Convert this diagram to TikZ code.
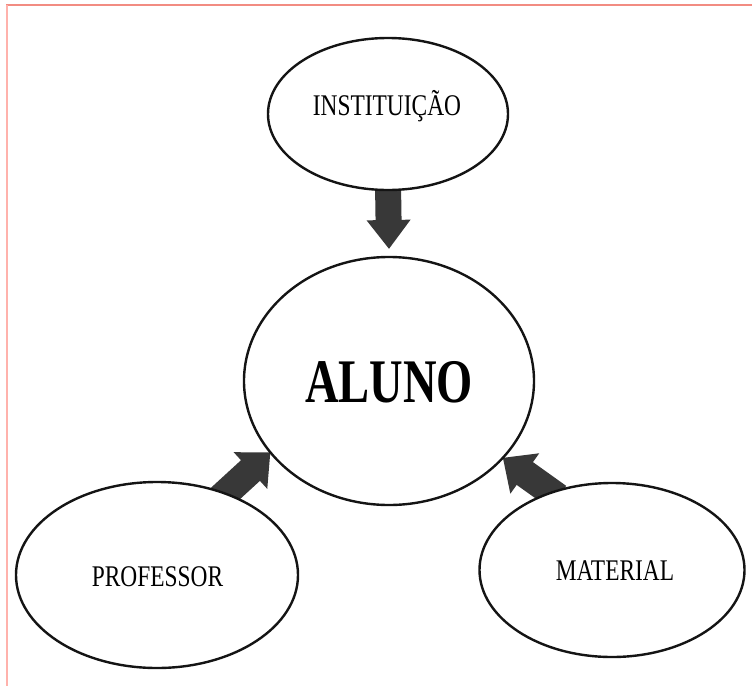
\documentclass[tikz,border=0pt]{standalone}
\usepackage{fontspec}
\usepackage{graphicx}
\setmainfont{Liberation Serif}
\usetikzlibrary{shapes.geometric,arrows.meta,backgrounds}
\definecolor{arrowgray}{RGB}{56,56,56}
\definecolor{edgeblack}{RGB}{20,20,20}
\definecolor{framered}{RGB}{242,140,130}
\definecolor{framepink}{RGB}{255,178,172}
\tikzset{
  oval/.style={ellipse, draw=edgeblack, line width=2.4pt, fill=white, inner sep=0pt, outer sep=0pt},
  lbl/.style={anchor=base, inner sep=0pt, font=\fontsize{30}{36}\selectfont},
  biglbl/.style={anchor=base, inner sep=0pt, font=\fontsize{62}{70}\selectfont\bfseries},
  bigarrow/.style={draw=arrowgray, line width=26pt, -{Triangle[width=42pt,length=29pt]}},
  sidearrow/.style={draw=arrowgray, line width=28pt, -{Triangle[width=48pt,length=27pt]}},
}
\begin{document}
\begin{tikzpicture}[x=1pt,y=-1pt]
\useasboundingbox (0,0) rectangle (752,686);
% ovals
\node[oval, minimum width=240pt, minimum height=152pt] (inst) at (388,114) {};
\node[oval, minimum width=290pt, minimum height=248pt] (aluno) at (389,381) {};
\node[oval, minimum width=282pt, minimum height=186pt] (prof) at (157,575) {};
\node[oval, minimum width=265pt, minimum height=174pt] (mat) at (612,570) {};
% labels
\node[lbl] (tinst) at (387,115) {\scalebox{0.78}[1]{INSTITUIÇÃO}};
\node[biglbl] (taluno) at (389,402) {\scalebox{0.75}[1]{ALUNO}};
\node[lbl] (tprof) at (157.5,586) {\scalebox{0.78}[1]{PROFESSOR}};
\node[lbl] (tmat) at (615,580) {\scalebox{0.78}[1]{MATERIAL}};
% background, frame and arrows
\begin{scope}[on background layer]
\fill[white] (0,0) rectangle (752,686);
\draw[framered, line width=1.6pt] (6,5) -- (752,5);
\draw[framepink, line width=1.6pt] (7,5) -- (7,686);
\draw[bigarrow] ([yshift=6pt]inst.south) -- ([yshift=8pt]aluno.north);
\draw[sidearrow, shorten <=-8pt] (prof.50) -- (aluno.211);
\draw[sidearrow, shorten <=-8pt] (mat.128) -- (aluno.326);
\end{scope}
\end{tikzpicture}
\end{document}
